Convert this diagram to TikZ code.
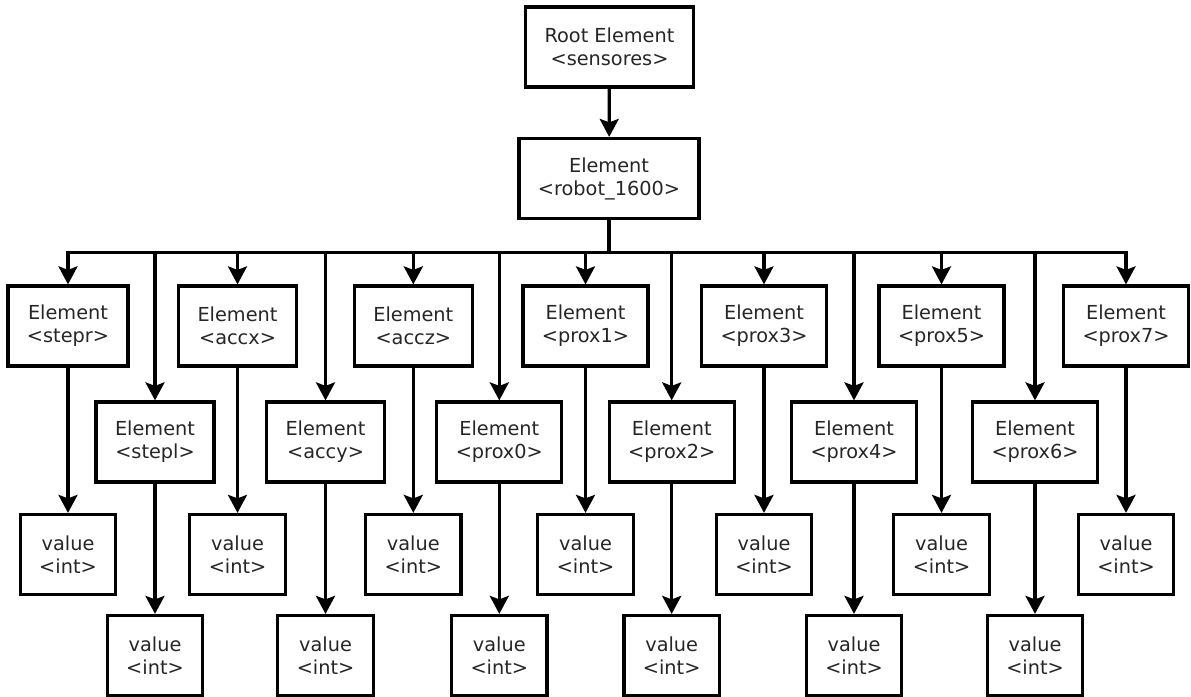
\documentclass[tikz,border=0pt]{standalone}
\usepackage{fontspec}
\setmainfont{DejaVu Sans}
\usetikzlibrary{arrows.meta}
\begin{document}
\begin{tikzpicture}[x=1pt,y=-1pt,
  box/.style={draw=black, line width=3.2pt, fill=white, align=center,
    inner xsep=19pt, inner ysep=0pt, minimum height=80pt,
    text=black!85, font=\fontsize{19.3}{23}\selectfont},
  link/.style={line width=3.2pt, draw=black},
  arr/.style={link, -{Stealth[length=18pt,width=19pt,inset=3.5pt]}}
]
\useasboundingbox (0,0) rectangle (1191,696);

% root and the single robot element
\node[box] (root)  at (609.5,47)  {Root Element\\<sensores>};
\node[box] (robot) at (609,178.5) {Element\\<robot\_1600>};
\draw[arr] (root) -- (robot);

% distribution bar below the robot element
\coordinate (bar) at (0,252.5);
\draw[link] (robot.south) -- (robot.south |- bar);
\draw[link, line cap=rect] (68,252.5) coordinate (barL) -- (1126,252.5) coordinate (barR);

% upper row of sensor elements
\foreach \n/\x in {stepr/68, accx/237.5, accz/413.3, prox1/585.5, prox3/764, prox5/941.5, prox7/1126} {
  \node[box] (\n)   at (\x,326)   {Element\\<\n>};
  \node[box] (v-\n) at (\x,554.5) {value\\<int>};
  \draw[arr] (\n |- bar) -- (\n.north);
  \draw[arr] (\n) -- (v-\n);
}

% lower row of sensor elements
\foreach \n/\x in {stepl/155, accy/325.5, prox0/499.3, prox2/671.7, prox4/854, prox6/1035} {
  \node[box] (\n)   at (\x,442) {Element\\<\n>};
  \node[box] (v-\n) at (\x,655.5) {value\\<int>};
  \draw[arr] (\n |- bar) -- (\n.north);
  \draw[arr] (\n) -- (v-\n);
}
\end{tikzpicture}
\end{document}
